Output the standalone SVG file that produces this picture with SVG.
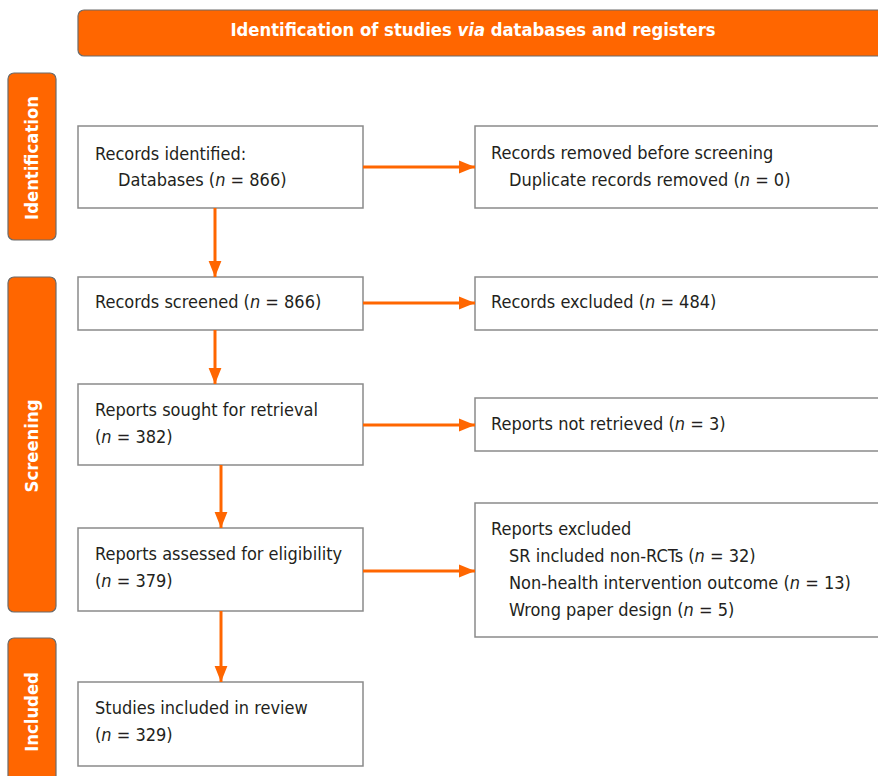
<svg xmlns="http://www.w3.org/2000/svg" width="878" height="776" viewBox="0 0 878 776">
<style>
.band{fill:#FF6600;stroke:#6b6b6b;stroke-width:1.2}
.box{fill:#fff;stroke:#8a8a8a;stroke-width:1.5}
.t{font-family:"DejaVu Sans Condensed","DejaVu Sans",sans-serif;font-size:18px;fill:#231F20}
.h{font-family:"DejaVu Sans Condensed","DejaVu Sans",sans-serif;font-size:18.3px;font-weight:bold;fill:#fff}
.c{stroke:#FF6600;stroke-width:3;fill:none}
</style>
<defs>
<marker id="ah" viewBox="0 0 10 8" refX="10" refY="4" markerWidth="5.5" markerHeight="4.4" markerUnits="strokeWidth" orient="auto">
<path d="M0,0 L10,4 L0,8 Z" fill="#FF6600"/>
</marker>
</defs>
<g id="header"><rect class="band" x="78" y="10" width="820" height="46" rx="6"/>
<text class="h" x="473" y="36" text-anchor="middle">Identification of studies <tspan font-style="italic">via</tspan> databases and registers</text></g>
<g id="side-identification"><rect class="band" x="8" y="73" width="48" height="167" rx="6"/>
<text class="h" transform="translate(38,158) rotate(-90)" text-anchor="middle" font-size="18.8">Identification</text></g>
<g id="side-screening"><rect class="band" x="8" y="277" width="48" height="335" rx="6"/>
<text class="h" transform="translate(38,446) rotate(-90)" text-anchor="middle" font-size="18.8">Screening</text></g>
<g id="side-included"><rect class="band" x="8" y="638" width="48" height="150" rx="6"/>
<text class="h" transform="translate(38,712) rotate(-90)" text-anchor="middle" font-size="18.8">Included</text></g>

<g id="n-identified"><rect class="box" x="78" y="126" width="285" height="82"/>
<text class="t" x="95" y="160">Records identified:</text>
<text class="t" x="118" y="186">Databases (<tspan font-style="italic">n</tspan> = 866)</text></g>
<g id="n-removed"><rect class="box" x="475" y="126" width="420" height="82"/>
<text class="t" x="491" y="159">Records removed before screening</text>
<text class="t" x="509" y="186">Duplicate records removed (<tspan font-style="italic">n</tspan> = 0)</text></g>
<g id="n-screened"><rect class="box" x="78" y="277" width="285" height="53"/>
<text class="t" x="95" y="308">Records screened (<tspan font-style="italic">n</tspan> = 866)</text></g>
<g id="n-excluded"><rect class="box" x="475" y="277" width="420" height="53"/>
<text class="t" x="491" y="308">Records excluded (<tspan font-style="italic">n</tspan> = 484)</text></g>
<g id="n-sought"><rect class="box" x="78" y="384" width="285" height="81"/>
<text class="t" x="95" y="416">Reports sought for retrieval</text>
<text class="t" x="95" y="443">(<tspan font-style="italic">n</tspan> = 382)</text></g>
<g id="n-notretrieved"><rect class="box" x="475" y="398" width="420" height="53"/>
<text class="t" x="491" y="430">Reports not retrieved (<tspan font-style="italic">n</tspan> = 3)</text></g>
<g id="n-assessed"><rect class="box" x="78" y="528" width="285" height="83"/>
<text class="t" x="95" y="560">Reports assessed for eligibility</text>
<text class="t" x="95" y="587">(<tspan font-style="italic">n</tspan> = 379)</text></g>
<g id="n-reportsexcluded"><rect class="box" x="475" y="503" width="420" height="134"/>
<text class="t" x="491" y="535">Reports excluded</text>
<text class="t" x="509" y="562">SR included non-RCTs (<tspan font-style="italic">n</tspan> = 32)</text>
<text class="t" x="509" y="589">Non-health intervention outcome (<tspan font-style="italic">n</tspan> = 13)</text>
<text class="t" x="509" y="616">Wrong paper design (<tspan font-style="italic">n</tspan> = 5)</text></g>
<g id="n-included"><rect class="box" x="78" y="682" width="285" height="84"/>
<text class="t" x="95" y="714">Studies included in review</text>
<text class="t" x="95" y="741">(<tspan font-style="italic">n</tspan> = 329)</text></g>

<g id="connectors">
<line class="c" x1="363" y1="167" x2="475" y2="167" marker-end="url(#ah)"/>
<line class="c" x1="363" y1="303" x2="475" y2="303" marker-end="url(#ah)"/>
<line class="c" x1="363" y1="425" x2="475" y2="425" marker-end="url(#ah)"/>
<line class="c" x1="363" y1="571" x2="475" y2="571" marker-end="url(#ah)"/>
<line class="c" x1="215" y1="208" x2="215" y2="277" marker-end="url(#ah)"/>
<line class="c" x1="215" y1="330" x2="215" y2="384" marker-end="url(#ah)"/>
<line class="c" x1="221" y1="465" x2="221" y2="528" marker-end="url(#ah)"/>
<line class="c" x1="221" y1="611" x2="221" y2="682" marker-end="url(#ah)"/>
</g>
</svg>
